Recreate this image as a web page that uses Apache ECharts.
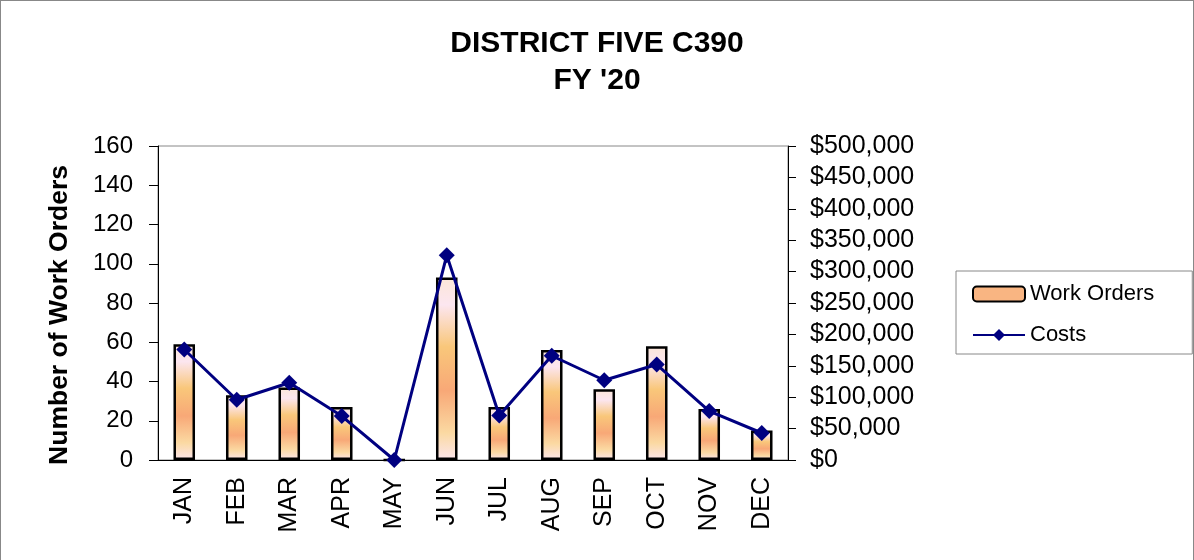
<!DOCTYPE html>
<html lang="en">
<head>
    <meta charset="UTF-8">
    <title>DISTRICT FIVE C390 FY '20</title>
    <script src="https://cdn.jsdelivr.net/npm/echarts/dist/echarts.min.js"></script>
    <style>
        html, body {
            margin: 0;
            padding: 0;
            background: #fff;
        }
        #chart {
            width: 1194px;
            height: 560px;
            box-sizing: border-box;
            border: 1px solid #888;
            border-bottom: none;
        }
    </style>
</head>
<body>
<div id="chart"></div>

<script>
    // data
    var months = ['JAN', 'FEB', 'MAR', 'APR', 'MAY', 'JUN', 'JUL', 'AUG', 'SEP', 'OCT', 'NOV', 'DEC'];
    var workOrders = [59, 33, 37, 27, 0, 93, 27, 56, 36, 58, 26, 15];
    var costs = [176000, 96000, 123000, 70000, 0, 326000, 71000, 166000, 127000, 152000, 78000, 43000];

    var chart = echarts.init(document.getElementById('chart'));
    var font = 'Liberation Sans, Arial, sans-serif';

    // bar fill: pale at top and bottom, orange in the middle
    var barFill = new echarts.graphic.LinearGradient(0, 0, 0, 1, [
        { offset: 0, color: '#fbe6d8' },
        { offset: 0.15, color: '#fce6f0' },
        { offset: 0.38, color: '#f9c77a' },
        { offset: 0.62, color: '#f8a877' },
        { offset: 0.85, color: '#fbd9a2' },
        { offset: 1, color: '#fce6ec' }
    ]);

    var option = {
        animation: false,
        textStyle: { fontFamily: font },
        title: {
            text: "DISTRICT FIVE C390\nFY '20",
            left: 'center',
            top: 19,
            textStyle: {
                fontFamily: font,
                fontSize: 30,
                fontWeight: 'bold',
                color: '#000',
                lineHeight: 37
            }
        },
        legend: {
            orient: 'vertical',
            left: 955,
            top: 270,
            padding: [12, 38, 8, 16],
            itemGap: 19,
            itemWidth: 52,
            itemHeight: 15,
            itemTextGap: 5,
            borderColor: '#888',
            borderWidth: 1,
            textStyle: { fontFamily: font, fontSize: 22, color: '#000' },
            data: [
                { name: 'Work Orders', itemStyle: { color: '#f9b582', borderColor: '#000', borderWidth: 2 } },
                { name: 'Costs' }
            ]
        },
        grid: {
            left: 157,
            right: 405,
            top: 145,
            bottom: 100,
            show: true,
            borderColor: '#888',
            borderWidth: 1
        },
        xAxis: {
            type: 'category',
            data: months,
            axisLine: { lineStyle: { color: '#000', width: 1 } },
            axisTick: { length: 8, lineStyle: { color: '#000' } },
            axisLabel: {
                rotate: 90,
                fontSize: 25,
                color: '#000',
                margin: 17
            }
        },
        yAxis: [{
            type: 'value',
            min: 0,
            max: 160,
            interval: 20,
            name: 'Number of Work Orders',
            nameLocation: 'middle',
            nameGap: 85,
            nameTextStyle: {
                fontSize: 26.5,
                fontWeight: 'bold',
                color: '#000',
                padding: [0, 24, 0, 0]
            },
            axisLine: { show: true, lineStyle: { color: '#000' } },
            axisTick: { show: true, length: 9, lineStyle: { color: '#000' } },
            axisLabel: { fontSize: 24, color: '#000', margin: 25 },
            splitLine: { show: false }
        }, {
            type: 'value',
            min: 0,
            max: 500000,
            interval: 50000,
            position: 'right',
            axisLine: { show: true, lineStyle: { color: '#000' } },
            axisTick: { show: true, length: 8, lineStyle: { color: '#000' } },
            axisLabel: {
                fontSize: 25,
                color: '#000',
                margin: 22,
                formatter: function (v) {
                    return '$' + v.toLocaleString('en-US');
                }
            },
            splitLine: { show: false }
        }],
        series: [{
            name: 'Work Orders',
            type: 'bar',
            data: workOrders,
            barWidth: '41%',
            itemStyle: {
                color: barFill,
                borderColor: '#000',
                borderWidth: 2.5
            }
        }, {
            name: 'Costs',
            type: 'line',
            yAxisIndex: 1,
            data: costs,
            symbol: 'diamond',
            symbolSize: 16,
            clip: false,
            lineStyle: { color: '#000080', width: 3 },
            itemStyle: { color: '#000080' }
        }]
    };

    chart.setOption(option);
</script>
</body>
</html>
